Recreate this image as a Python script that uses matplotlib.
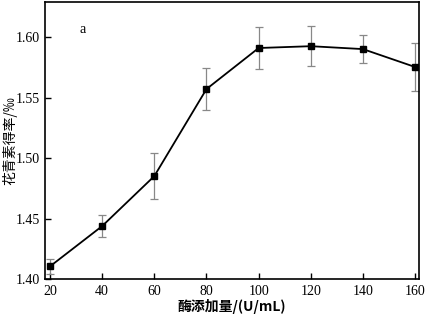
import matplotlib
matplotlib.use("Agg")
import matplotlib.pyplot as plt

# data
dose = [20, 40, 60, 80, 100, 120, 140, 160]
yield_ = [1.4105, 1.4438, 1.4851, 1.5570, 1.5909, 1.5924, 1.5900, 1.5752]
err = [0.0065, 0.0090, 0.0190, 0.0172, 0.0170, 0.0165, 0.0115, 0.0195]
xticks = [20, 40, 60, 80, 100, 120, 140, 160]
yticks = [1.40, 1.45, 1.50, 1.55, 1.60]

SERIF = ["Liberation Serif", "DejaVu Serif"]
CJK = ["Noto Sans CJK SC", "Liberation Serif"]

fig = plt.figure(figsize=(4.25, 3.15), dpi=100)
ax = fig.add_axes([0.106, 0.114, 0.880, 0.880])

ax.errorbar(dose, yield_, yerr=err, color="black", lw=1.3,
            marker="s", ms=4.5, ecolor="#888888", elinewidth=0.9,
            capsize=3, capthick=0.9)

ax.set_xlim(18.1, 161.5)
ax.set_ylim(1.40, 1.629)
ax.set_xticks(xticks)
ax.set_yticks(yticks)
ax.set_xticklabels([str(v) for v in xticks], family=SERIF, fontsize=10)
ax.set_yticklabels([f"{v:.2f}" for v in yticks], family=SERIF, fontsize=10)
ax.tick_params(direction="in", length=4, width=1, top=False, right=False, pad=4)
for s in ax.spines.values():
    s.set_linewidth(1.2)

ax.set_xlabel("酶添加量/(U/mL)", family=CJK, fontsize=10, fontweight="bold", labelpad=1)
ax.set_ylabel("花青素得率/‰", family=CJK, fontsize=10)
ax.yaxis.set_label_coords(-0.075, 0.5)
ax.text(31.5, 1.603, "a", family=SERIF, fontsize=10)

fig.savefig("out.png", dpi=100)
